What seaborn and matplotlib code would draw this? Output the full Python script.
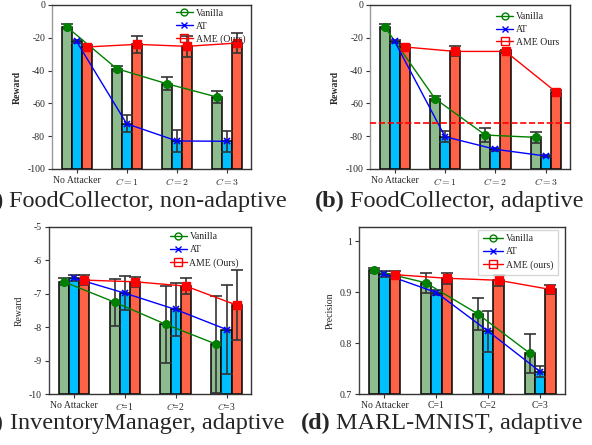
import numpy as np
import pandas as pd
import seaborn as sns
import matplotlib
matplotlib.use("Agg")
import matplotlib.pyplot as plt
from matplotlib.lines import Line2D

# ---------------- data ----------------
groups = ["No Attacker", "C=1", "C=2", "C=3"]
methods = ["Vanilla", "AT", "AME"]

# (a) FoodCollector, non-adaptive
a_vanilla = [-13.2, -38.8, -48.0, -56.1]
a_vanilla_err = [1.4, 1.5, 4.0, 3.5]
a_at = [-22.2, -72.4, -82.9, -83.1]
a_at_err = [1.0, 5.2, 6.7, 6.4]
a_ame = [-25.6, -24.0, -25.2, -23.2]
a_ame_err = [1.0, 5.0, 6.3, 6.0]

# (b) FoodCollector, adaptive
b_vanilla = [-13.2, -57.1, -79.3, -80.7]
b_vanilla_err = [1.5, 1.6, 4.3, 3.4]
b_at = [-22.2, -80.3, -88.0, -92.1]
b_at_err = [1.0, 3.2, 0.8, 0.8]
b_ame = [-25.6, -28.3, -28.3, -53.0]
b_ame_err = [1.0, 3.0, 0.8, 1.0]
b_threshold = -71.7

# (c) InventoryManager, adaptive
c_vanilla = [-6.64, -7.25, -7.91, -8.51]
c_vanilla_err = [0.11, 0.70, 1.15, 1.45]
c_at = [-6.53, -6.98, -7.47, -8.07]
c_at_err = [0.10, 0.50, 0.79, 1.34]
c_ame = [-6.59, -6.64, -6.77, -7.34]
c_ame_err = [0.16, 0.15, 0.25, 1.05]

# (d) MARL-MNIST, adaptive
d_vanilla = [0.9425, 0.918, 0.857, 0.780]
d_vanilla_err = [0.005, 0.019, 0.031, 0.038]
d_at = [0.935, 0.899, 0.823, 0.744]
d_at_err = [0.006, 0.004, 0.040, 0.010]
d_ame = [0.934, 0.927, 0.923, 0.905]
d_ame_err = [0.007, 0.011, 0.011, 0.008]

xlabels_ab = ["No Attacker", "$C=1$", "$C=2$", "$C=3$"]
xlabels_c = ["No Attacker", "$C$=1", "$C$=2", "$C$=3"]
xlabels_d = ["No Attacker", "C=1", "C=2", "C=3"]

legend_a = ["Vanilla", "AT", "AME (Ours)"]
legend_b = ["Vanilla", "AT", "AME Ours"]
legend_c = ["Vanilla", "AT", "AME (Ours)"]
legend_d = ["Vanilla", "AT", "AME (ours)"]

# ---------------- style ----------------
sns.set_theme(style="white")
plt.rcParams["font.family"] = ["Liberation Serif", "DejaVu Serif"]
plt.rcParams["mathtext.fontset"] = "cm"
plt.rcParams["axes.unicode_minus"] = False

bar_colors = {"Vanilla": "#8fbc8f", "AT": "#00bfff", "AME": "#ff6347"}
line_colors = {"Vanilla": "green", "AT": "blue", "AME": "red"}
markers = {"Vanilla": "o", "AT": "x", "AME": "s"}
msizes = {"Vanilla": 5.5, "AT": 4.5, "AME": 6}
offsets = {"Vanilla": -0.2, "AT": 0.0, "AME": 0.2}

W, H = 592, 445
fig = plt.figure(figsize=(W / 100, H / 100), dpi=100)


def add_ax(l, t, r, b):
    return fig.add_axes([l / W, 1 - b / H, (r - l) / W, (b - t) / H])


def panel(ax, vals, errs, base, top, yticks, yticklabels, xlabels, ylabel,
          ybold, leg_labels, leg_frame, leg_anchor, left_spine="#444444",
          hlen=1.7, bpad=0.3):
    rows = []
    for m in methods:
        for g, v in zip(groups, vals[m]):
            rows.append({"group": g, "method": m, "height": v - base})
    df = pd.DataFrame(rows)
    sns.barplot(data=df, x="group", y="height", hue="method", order=groups,
                hue_order=methods, palette=bar_colors, saturation=1,
                width=0.6, edgecolor="black", linewidth=1.1, errorbar=None,
                bottom=base, legend=False, ax=ax, zorder=2)
    xs = np.arange(len(groups))
    for m in methods:
        ax.errorbar(xs + offsets[m], vals[m], yerr=errs[m], fmt="none",
                    ecolor="#333333", elinewidth=1.2, capsize=4.3,
                    capthick=1.2, zorder=3)
    for m in methods:
        ax.plot(xs + offsets[m], vals[m], color=line_colors[m], lw=1.0,
                marker=markers[m], ms=msizes[m], mew=1.2 if m == "AT" else 1.0,
                zorder=4)
    ax.set_xlim(-0.49, 3.48)
    ax.set_ylim(base, top)
    ax.set_yticks(yticks)
    ax.set_yticklabels(yticklabels, fontsize=7)
    ax.set_xticks(xs)
    ax.set_xticklabels(xlabels, fontsize=7)
    ax.set_xlabel("")
    ax.set_ylabel(ylabel, fontsize=7, fontweight="bold" if ybold else "normal")
    ax.tick_params(axis="both", direction="out", length=3, width=0.8,
                   color="#333333", pad=2, bottom=True, left=True)
    for s in ["top", "right", "bottom"]:
        ax.spines[s].set_color("#333333")
        ax.spines[s].set_linewidth(1.0)
    ax.spines["left"].set_color(left_spine)
    ax.spines["left"].set_linewidth(1.0)
    handles = [Line2D([], [], color=line_colors[m], marker=markers[m],
                      ms=msizes[m] * 0.9, mfc="none", lw=1.0) for m in methods]
    leg = ax.legend(handles, leg_labels, loc="upper right",
                    bbox_to_anchor=leg_anchor, frameon=leg_frame, fontsize=7,
                    handlelength=hlen, handletextpad=0.3, labelspacing=0.4,
                    borderpad=bpad, borderaxespad=0.0, fancybox=False)
    if leg_frame:
        leg.get_frame().set_edgecolor("#cccccc")
        leg.get_frame().set_linewidth(1.0)


ax_a = add_ax(52, 5, 251, 169)
panel(ax_a, {"Vanilla": a_vanilla, "AT": a_at, "AME": a_ame},
      {"Vanilla": a_vanilla_err, "AT": a_at_err, "AME": a_ame_err},
      -100, 0, [0, -20, -40, -60, -80, -100],
      ["0", "-20", "-40", "-60", "-80", "-100"], xlabels_ab, "Reward", True,
      legend_a, False, (0.985, 0.995), left_spine="#999999")

ax_b = add_ax(370, 5, 570, 169)
panel(ax_b, {"Vanilla": b_vanilla, "AT": b_at, "AME": b_ame},
      {"Vanilla": b_vanilla_err, "AT": b_at_err, "AME": b_ame_err},
      -100, 0, [0, -20, -40, -60, -80, -100],
      ["0", "-20", "-40", "-60", "-80", "-100"], xlabels_ab, "Reward", True,
      legend_b, False, (0.96, 0.975), left_spine="#999999")
ax_b.axhline(b_threshold, color="red", ls="--", lw=1.2, zorder=5)

ax_c = add_ax(49, 227, 251, 394)
panel(ax_c, {"Vanilla": c_vanilla, "AT": c_at, "AME": c_ame},
      {"Vanilla": c_vanilla_err, "AT": c_at_err, "AME": c_ame_err},
      -10, -5, [-5, -6, -7, -8, -9, -10],
      ["-5", "-6", "-7", "-8", "-9", "-10"], xlabels_c, "Reward", False,
      legend_c, False, (0.955, 0.985))

ax_d = add_ax(359, 227, 565, 394)
panel(ax_d, {"Vanilla": d_vanilla, "AT": d_at, "AME": d_ame},
      {"Vanilla": d_vanilla_err, "AT": d_at_err, "AME": d_ame_err},
      0.7, 1.0275, [0.7, 0.8, 0.9, 1.0],
      ["0.7", "0.8", "0.9", "1"], xlabels_d, "Precision", False,
      legend_d, True, (0.965, 0.985), hlen=2.0, bpad=0.5)

# ---------------- captions ----------------
renderer = fig.canvas.get_renderer()


def caption(right_px, y_px, bold, rest, size):
    t = fig.text(right_px / W, 1 - y_px / H, rest, ha="right", va="center",
                 fontsize=size)
    bb = t.get_window_extent(renderer)
    fig.text((bb.x0 - size * 0.3) / W, 1 - y_px / H, bold, ha="right",
             va="center", fontsize=size, fontweight="bold")


caption(287, 201, "(a)", "FoodCollector, non-adaptive", 17.5)
caption(583, 201, "(b)", "FoodCollector, adaptive", 17.5)
caption(284, 423, "(c)", "InventoryManager, adaptive", 17.5)
caption(583, 423, "(d)", "MARL-MNIST, adaptive", 17.5)

fig.savefig("out.png", dpi=100)
